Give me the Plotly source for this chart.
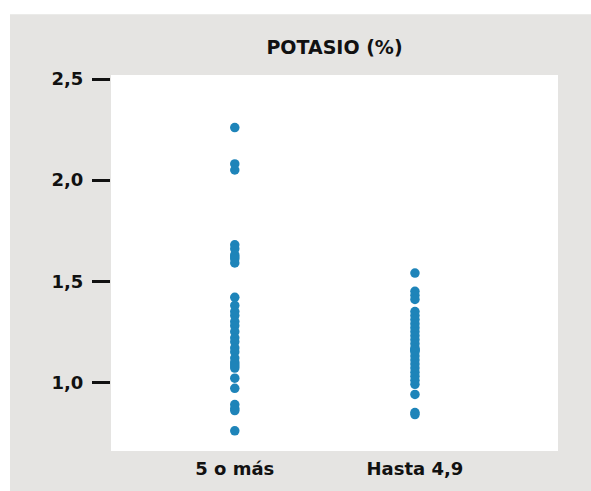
import plotly.graph_objects as go

categories = ["5 o más", "Hasta 4,9"]

potasio_5_o_mas = [2.26, 2.08, 2.05,
                   1.68, 1.66, 1.63, 1.62, 1.61, 1.59,
                   1.42, 1.38, 1.35, 1.33, 1.30, 1.28, 1.25, 1.22, 1.20,
                   1.17, 1.15, 1.12, 1.10, 1.09, 1.08, 1.07,
                   1.02, 0.97, 0.89, 0.87, 0.86, 0.76]

potasio_hasta_4_9 = [1.54, 1.45, 1.43, 1.41,
                     1.35, 1.33, 1.31, 1.29, 1.27, 1.25, 1.23, 1.21, 1.19,
                     1.17, 1.16, 1.16, 1.15, 1.13, 1.11, 1.09, 1.07, 1.05,
                     1.03, 1.01, 0.99, 0.94, 0.85, 0.84]

y_tickvals = [1.0, 1.5, 2.0, 2.5]
title_text = "POTASIO (%)"

DOT = "#1E84B9"
GRAY = "#E5E4E2"
INK = "#111111"
FONT = "DejaVu Sans"
FS = 18

fig = go.Figure()
fig.add_trace(go.Scatter(
    x=[categories[0]] * len(potasio_5_o_mas), y=potasio_5_o_mas,
    mode="markers", marker=dict(color=DOT, size=9.5, line=dict(width=0)),
    showlegend=False, hoverinfo="y"))
fig.add_trace(go.Scatter(
    x=[categories[1]] * len(potasio_hasta_4_9), y=potasio_hasta_4_9,
    mode="markers", marker=dict(color=DOT, size=9.5, line=dict(width=0)),
    showlegend=False, hoverinfo="y"))

W, H = 591, 491
L, R, T, B = 111, 33, 75, 38
pw, ph = W - L - R, H - T - B

fig.update_layout(
    width=W, height=H,
    margin=dict(l=L, r=R, t=T, b=B, pad=0),
    paper_bgcolor=GRAY, plot_bgcolor="white",
    separators=",.",
    font=dict(family=FONT, color=INK, size=FS, weight="bold"),
    title=dict(text=title_text, x=(L + pw / 2) / W, xanchor="center",
               y=1 - 47 / H, yanchor="middle", yref="container",
               font=dict(family=FONT, size=19, weight="bold", color=INK)),
    xaxis=dict(type="category", categoryorder="array", categoryarray=categories,
               range=[-0.687, 1.794], showgrid=False, zeroline=False,
               showline=False, ticks="outside", ticklen=1, tickcolor="rgba(0,0,0,0)",
               tickfont=dict(family=FONT, size=FS, weight="bold", color=INK)),
    yaxis=dict(range=[0.66, 2.52], tickvals=y_tickvals, tickformat=".1f",
               showgrid=False, zeroline=False, showline=False,
               ticks="outside", ticklen=18, tickwidth=3, tickcolor=INK,
               ticklabelstandoff=5,
               tickfont=dict(family=FONT, size=FS, weight="bold", color=INK)),
    shapes=[
        dict(type="rect", xref="paper", yref="paper",
             x0=-L / pw - 0.01, x1=1 + R / pw + 0.01,
             y0=1 + (T - 14) / ph, y1=1 + T / ph + 0.01,
             fillcolor="white", line=dict(width=0), layer="below"),
        dict(type="rect", xref="paper", yref="paper",
             x0=-L / pw - 0.01, x1=-(L - 10) / pw,
             y0=-B / ph - 0.01, y1=1 + T / ph + 0.01,
             fillcolor="white", line=dict(width=0), layer="below"),
    ],
)

fig.write_html(
    "out.html",
    config={"displayModeBar": False},
    post_script=(
        "document.body.style.margin='0';"
        "document.body.style.overflow='hidden';"
        "document.body.style.background='" + GRAY + "';"
        "document.documentElement.style.background='" + GRAY + "';"
    ),
)
